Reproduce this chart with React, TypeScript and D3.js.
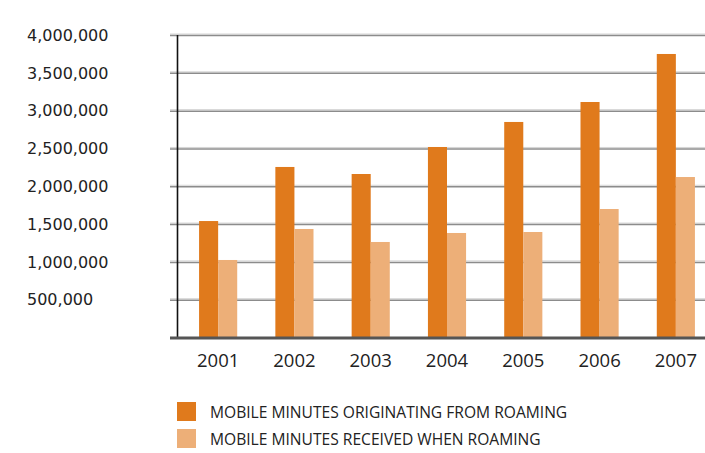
import React from "react";
import * as d3 from "d3";

const years = ["2001", "2002", "2003", "2004", "2005", "2006", "2007"];
const originating = [1540000, 2255000, 2162000, 2519000, 2850000, 3114000, 3749000];
const received = [1025000, 1435000, 1263000, 1382000, 1395000, 1699000, 2122000];
const yTicks = [500000, 1000000, 1500000, 2000000, 2500000, 3000000, 3500000, 4000000];
const seriesNames = ["MOBILE MINUTES ORIGINATING FROM ROAMING", "MOBILE MINUTES RECEIVED WHEN ROAMING"];
const colors = ["#E07A1C", "#EDAF78"];

const W = 705;
const H = 453;

export default function App() {
  const y = d3.scaleLinear().domain([0, 4000000]).range([337.5, 35]);
  const x = d3.scaleBand<string>().domain(years).range([180, 714]).paddingInner(0.5).paddingOuter(0.25);
  const sub = d3.scaleBand<number>().domain([0, 1]).range([0, x.bandwidth()]);
  const fmt = d3.format(",");
  const series = [originating, received];

  return (
    <svg
      width={W}
      height={H}
      style={{ position: "absolute", left: 0, top: 0, background: "#fff" }}
    >
      {yTicks.map((t) => (
        <g key={t}>
          <line x1={170} x2={W} y1={y(t) - 1} y2={y(t) - 1} stroke="#d4d4d4" strokeWidth={1} />
          <line x1={170} x2={W} y1={y(t) + 0.5} y2={y(t) + 0.5} stroke="#8c8c8c" strokeWidth={1.5} />
          <text
            x={27}
            y={y(t)}
            dy="0.36em"
            fontFamily="DejaVu Sans, sans-serif"
            fontSize={16}
            fill="#222"
          >
            {fmt(t)}
          </text>
        </g>
      ))}
      <line x1={177.5} x2={177.5} y1={35} y2={337} stroke="#111" strokeWidth={1.6} />
      {series.map((vals, si) =>
        vals.map((v, i) => (
          <rect
            key={si + "-" + i}
            x={(x(years[i]) as number) + (sub(si) as number)}
            y={y(v)}
            width={sub.bandwidth()}
            height={y(0) - y(v)}
            fill={colors[si]}
          />
        ))
      )}
      <line x1={170} x2={W} y1={338} y2={338} stroke="#555" strokeWidth={3} />
      {years.map((yr) => (
        <text
          key={yr}
          x={(x(yr) as number) + x.bandwidth() / 2}
          y={367}
          textAnchor="middle"
          fontFamily="Open Sans, sans-serif"
          fontSize={18.5}
          fill="#222"
        >
          {yr}
        </text>
      ))}
      {seriesNames.map((name, i) => (
        <g key={name}>
          <rect x={177} y={402 + i * 27} width={19} height={19} fill={colors[i]} />
          <text
            x={210}
            y={412 + i * 27}
            dy="0.36em"
            fontFamily="Open Sans, sans-serif"
            fontSize={15.6}
            fill="#222"
          >
            {name}
          </text>
        </g>
      ))}
    </svg>
  );
}
